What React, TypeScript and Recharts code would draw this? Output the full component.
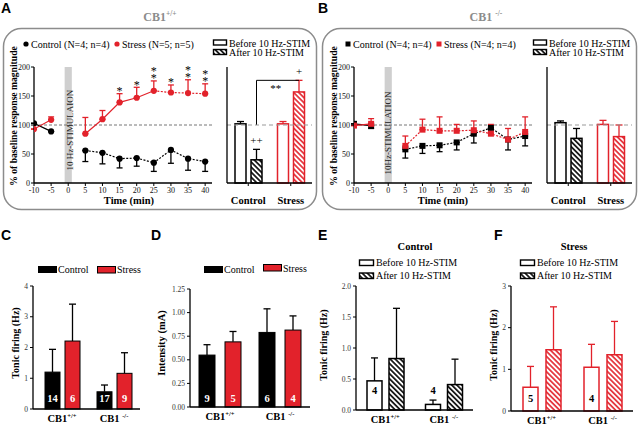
import React from 'react';
import {
  ComposedChart,
  BarChart,
  Bar,
  Line,
  Scatter,
  XAxis,
  YAxis,
  ErrorBar,
  ReferenceLine,
  ReferenceArea,
} from 'recharts';

const RED = '#e2222b';
const GRAY = '#8c8c8c';
const SERIF = '"Liberation Serif", "Times New Roman", serif';
const SANS = '"Liberation Sans", Arial, sans-serif';

// ---- A / B: time course (% of baseline) ----
const timePoints = [-10, -5, 5, 10, 15, 20, 25, 30, 35, 40];
const timeTicks = [-10, -5, 0, 5, 10, 15, 20, 25, 30, 35, 40];
const pctTicks = [0, 50, 100, 150, 200];

const aControl = [103, 89, 56, 52, 42, 43, 35, 57, 42, 37];
const aControlSem = [0, 0, 19, 19, 16, 14, 15, 23, 20, 17];
const aStress = [93, 109, 85, 110, 139, 147, 159, 156, 155, 154];
const aStressSem = [0, 5, 28, 15, 15, 18, 17, 13, 23, 17];
const aStars = [0, 0, 0, 0, 1, 1, 2, 1, 2, 2];

const bControl = [102, 99, 58, 64, 65, 70, 85, 95, 75, 81];
const bControlSem = [0, 5, 15, 13, 11, 13, 16, 0, 18, 17];
const bStress = [99, 102, 64, 92, 90, 90, 91, 85, 75, 88];
const bStressSem = [0, 9, 17, 18, 24, 11, 16, 16, 19, 26];
const bStars = [0, 0, 0, 0, 0, 0, 0, 0, 0, 0];

// ---- A / B: before vs after 10 Hz-STIM ----
const stimGroups = ['Control', 'Stress'];
const aBefore = [102, 102];
const aBeforeSem = [4, 4];
const aAfter = [40, 157];
const aAfterSem = [18, 20];
const aAfterMarks = ['++', '+'];
const bBefore = [104, 101];
const bBeforeSem = [3, 7];
const bAfter = [77, 80];
const bAfterSem = [17, 20];
const bAfterMarks = ['', ''];

// ---- C - F ----
const genotypes = ['CB1+/+', 'CB1 -/-'];

const cControl = [1.2, 0.56];
const cControlSem = [0.74, 0.22];
const cControlN = [14, 17];
const cStress = [2.21, 1.16];
const cStressSem = [1.2, 0.67];
const cStressN = [6, 9];

const dControl = [0.55, 0.79];
const dControlSem = [0.11, 0.25];
const dControlN = [9, 6];
const dStress = [0.69, 0.815];
const dStressSem = [0.11, 0.15];
const dStressN = [5, 4];

const eBefore = [0.47, 0.09];
const eBeforeSem = [0.37, 0.07];
const eBeforeN = [4, 4];
const eAfter = [0.83, 0.41];
const eAfterSem = [0.81, 0.41];

const fBefore = [0.57, 1.05];
const fBeforeSem = [0.5, 0.55];
const fBeforeN = [5, 4];
const fAfter = [1.47, 1.35];
const fAfterSem = [1.03, 0.8];

function courseRows(ctrl: number[], ctrlSem: number[], stress: number[], stressSem: number[], solidUntil: number) {
  return timePoints.map((t, i) => ({
    t,
    ctrl: ctrl[i],
    ctrlErr: [ctrlSem[i], 0],
    stress: stress[i],
    stressErr: [0, stressSem[i]],
    ctrlPre: t < 0 ? ctrl[i] : null,
    ctrlPost: t > 0 ? ctrl[i] : null,
    stressPre: t < 0 ? stress[i] : null,
    stressSolid: t > 0 && t <= solidUntil ? stress[i] : null,
    stressDot: t >= solidUntil ? stress[i] : null,
  }));
}

function starRows(stress: number[], stressSem: number[], stars: number[]) {
  return timePoints
    .map((t, i) => ({ t, starAt: stress[i] + stressSem[i] + 8, stars: stars[i] }))
    .filter((r) => r.stars > 0);
}

function pairRows(a: number[], aErr: number[], b: number[], bErr: number[], groups: string[], aN?: number[], bN?: number[]) {
  return groups.map((g, i) => ({
    g,
    a: a[i],
    aErr: aErr[i],
    aN: aN ? aN[i] : null,
    b: b[i],
    bErr: bErr[i],
    bN: bN ? bN[i] : null,
  }));
}

const aRows = courseRows(aControl, aControlSem, aStress, aStressSem, 25);
const bRows = courseRows(bControl, bControlSem, bStress, bStressSem, 5);
const aStarData = starRows(aStress, aStressSem, aStars);
const bStarData = starRows(bStress, bStressSem, bStars);

// layout helper: plot rect in page px -> chart box
function frame(L: number, T: number, R: number, B: number, yw: number, xh: number, padT = 8, padR = 5) {
  return {
    left: L - yw,
    top: T - padT,
    width: R - L + yw + padR,
    height: B - T + padT + xh,
    margin: { top: padT, right: padR, bottom: 0, left: 0 },
  };
}

const axisLine = { stroke: '#000', strokeWidth: 1.3 };
const tickLine = { stroke: '#000', strokeWidth: 1 };

const NumTickX = (p: any) => (
  <text x={p.x} y={p.y + 7} textAnchor="middle" fontFamily={SERIF} fontSize={8} fill="#111">
    {p.payload.value}
  </text>
);
const NumTickY = (p: any) => (
  <text x={p.x} y={p.y + 3} textAnchor="end" fontFamily={SERIF} fontSize={8} fill="#111">
    {p.payload.value}
  </text>
);

function TimeCourse({ x0, rows, stars, square }: { x0: number; rows: any[]; stars: any[]; square: boolean }) {
  const f = frame(x0 + 34, 67, x0 + 212, 183, 29, 26);
  const marker = (color: string) => (p: any) =>
    square ? (
      <rect x={p.cx - 3} y={p.cy - 3} width={6} height={6} fill={color} />
    ) : (
      <circle cx={p.cx} cy={p.cy} r={3.1} fill={color} />
    );
  // significance asterisks, stacked upward in one text element
  const starShape = (p: any) => {
    const n = p.payload.stars;
    const parts = [];
    for (let k = 0; k < n; k++) {
      parts.push(
        <tspan key={k} x={p.cx} dy={k === 0 ? 0 : -7.5}>
          *
        </tspan>
      );
    }
    return (
      <text x={p.cx} y={p.cy + 6} textAnchor="middle" fontSize={12} fontFamily={SERIF} fill="#000">
        {parts}
      </text>
    );
  };
  return (
    <div style={{ position: 'absolute', left: f.left, top: f.top }}>
      <ComposedChart width={f.width} height={f.height} data={rows} margin={f.margin} style={{ fontFamily: SERIF }}>
        <XAxis
          type="number"
          dataKey="t"
          domain={[-10, 42]}
          ticks={timeTicks}
          interval={0}
          allowDataOverflow
          height={26}
          axisLine={axisLine}
          tickLine={tickLine}
          tickSize={3}
          tickMargin={0}
          tick={NumTickX}
        />
        <YAxis
          type="number"
          domain={[0, 200]}
          ticks={pctTicks}
          interval={0}
          width={29}
          axisLine={axisLine}
          tickLine={tickLine}
          tickSize={3}
          tickMargin={1}
          tick={NumTickY}
        />
        <ReferenceArea x1={-1.05} x2={1.05} fill="#cfcfcf" fillOpacity={1} stroke="none" />
        <ReferenceLine y={100} stroke="#777" strokeDasharray="3 2" strokeWidth={1} />
        <Line dataKey="ctrlPre" stroke="#000" strokeWidth={1.2} dot={false} isAnimationActive={false} />
        <Line dataKey="ctrlPost" stroke="#000" strokeWidth={1.2} strokeDasharray="2 1.5" dot={false} isAnimationActive={false} />
        <Line dataKey="stressPre" stroke={RED} strokeWidth={1.2} dot={false} isAnimationActive={false} />
        <Line dataKey="stressSolid" stroke={RED} strokeWidth={1.2} dot={false} isAnimationActive={false} />
        <Line dataKey="stressDot" stroke={RED} strokeWidth={1.2} strokeDasharray="2 1.5" dot={false} isAnimationActive={false} />
        <Scatter dataKey="ctrl" shape={marker('#000')} isAnimationActive={false}>
          <ErrorBar dataKey="ctrlErr" direction="y" width={3} stroke="#000" strokeWidth={1.3} />
        </Scatter>
        <Scatter dataKey="stress" shape={marker(RED)} isAnimationActive={false}>
          <ErrorBar dataKey="stressErr" direction="y" width={3} stroke={RED} strokeWidth={1.3} />
        </Scatter>
        {stars.length > 0 && <Scatter data={stars} dataKey="starAt" shape={starShape} isAnimationActive={false} />}
      </ComposedChart>
    </div>
  );
}

type Look = { fill: string[]; stroke: string[]; sw: number; err: string };

function makeShape(
  key: 'a' | 'b',
  groups: string[],
  look: Look,
  opts: { nColor?: string; nLift?: number; marks?: string[]; bracket?: { text: string; band: number } } = {}
) {
  return (p: any) => {
    const i = groups.indexOf(p.payload.g);
    const v = p.payload[key];
    const ppu = p.height / v;
    const cx = p.x + p.width / 2;
    const bottom = p.y + p.height;
    const top = p.y - p.payload[key + 'Err'] * ppu;
    const n = p.payload[key + 'N'];
    const mark = opts.marks ? opts.marks[i] : '';
    return (
      <g>
        <rect x={p.x} y={p.y} width={p.width} height={p.height} fill={look.fill[i]} stroke={look.stroke[i]} strokeWidth={look.sw} />
        <line x1={cx} y1={p.y} x2={cx} y2={top} stroke={look.err || look.stroke[i]} strokeWidth={1.3} />
        <line x1={cx - 3.5} y1={top} x2={cx + 3.5} y2={top} stroke={look.err || look.stroke[i]} strokeWidth={1.3} />
        {n != null && opts.nLift != null && (
          <text x={cx} y={bottom - opts.nLift} textAnchor="middle" fontFamily={SERIF} fontWeight="bold" fontSize={10.5} fill={opts.nColor}>
            {n}
          </text>
        )}
        {mark && (
          <text x={cx} y={top - 5} textAnchor="middle" fontFamily={SERIF} fontSize={11} fill="#000">
            {mark}
          </text>
        )}
        {opts.bracket && i === 1 && (
          <g>
            <polyline
              points={`${cx - opts.bracket.band},${bottom - 100 * ppu} ${cx - opts.bracket.band},${top} ${cx},${top}`}
              fill="none"
              stroke="#000"
              strokeWidth={1}
            />
            <text x={cx - opts.bracket.band / 2 - 2} y={top + 12} textAnchor="middle" fontFamily={SERIF} fontSize={11} fill="#000">
              {opts.bracket.text}
            </text>
          </g>
        )}
      </g>
    );
  };
}

const GroupTick = (p: any) => (
  <text x={p.x} y={p.y + 16} textAnchor="middle" fontFamily={SERIF} fontWeight="bold" fontSize={10.5} fill="#000">
    {p.payload.value}
  </text>
);

const GenoTick = (p: any) => {
  const label: string = p.payload.value;
  const m = label.match(/^(.*?)([+\-]\/[+\-])$/);
  const base = m ? m[1] : label;
  const sup = m ? m[2] : '';
  return (
    <text x={p.x} y={p.y + 8} textAnchor="middle" fontFamily={SERIF} fontWeight="bold" fontSize={10.5} fill="#000">
      {base}
      <tspan dy={-4} fontSize={6.5}>
        {sup}
      </tspan>
    </text>
  );
};

function StimBars({ x0, before, beforeSem, after, afterSem, marks, bracket }: any) {
  const f = frame(x0 + 227, 67, x0 + 312, 183, 5, 26);
  const rows = pairRows(before, beforeSem, after, afterSem, stimGroups);
  const band = (312 - 227) / 2;
  const beforeLook: Look = { fill: ['#fff', '#fff'], stroke: ['#000', RED], sw: 1.5, err: '' };
  const afterLook: Look = { fill: ['url(#hatchK)', 'url(#hatchR)'], stroke: ['#000', RED], sw: 1.5, err: '' };
  return (
    <div style={{ position: 'absolute', left: f.left, top: f.top }}>
      <BarChart width={f.width} height={f.height} data={rows} margin={f.margin} barSize={11} barGap={5} style={{ fontFamily: SERIF }}>
        <XAxis dataKey="g" height={26} axisLine={axisLine} tickLine={tickLine} tickSize={3} tick={GroupTick} interval={0} />
        <YAxis domain={[0, 200]} ticks={pctTicks} interval={0} width={5} axisLine={axisLine} tickLine={tickLine} tickSize={3} tick={false} />
        <ReferenceLine y={100} stroke="#999" strokeDasharray="4 3" strokeWidth={1} />
        <Bar dataKey="a" shape={makeShape('a', stimGroups, beforeLook)} isAnimationActive={false} />
        <Bar
          dataKey="b"
          shape={makeShape('b', stimGroups, afterLook, { marks, bracket: bracket ? { text: bracket, band } : undefined })}
          isAnimationActive={false}
        />
      </BarChart>
    </div>
  );
}

function PairBars(props: any) {
  const { L, T, R, B, yw, rows, domain, ticks, fmt, aLook, bLook, barSize, barGap, nColor, nLift, padLeft } = props;
  const f = frame(L, T, R, B, yw, 18, 8, 5);
  const YTick = (p: any) => (
    <text x={p.x} y={p.y + 2.5} textAnchor="end" fontFamily={SERIF} fontSize={7.5} fill="#333">
      {fmt(p.payload.value)}
    </text>
  );
  return (
    <div style={{ position: 'absolute', left: f.left, top: f.top }}>
      <BarChart width={f.width} height={f.height} data={rows} margin={f.margin} barSize={barSize} barGap={barGap} style={{ fontFamily: SERIF }}>
        <XAxis
          dataKey="g"
          height={18}
          axisLine={axisLine}
          tickLine={false}
          tickSize={3}
          tick={GenoTick}
          interval={0}
          padding={{ left: padLeft || 0, right: 0 }}
        />
        <YAxis
          domain={domain}
          ticks={ticks}
          interval={0}
          width={yw}
          axisLine={axisLine}
          tickLine={tickLine}
          tickSize={3}
          tickMargin={2}
          tick={YTick}
        />
        <Bar dataKey="a" shape={makeShape('a', genotypes, aLook, { nColor, nLift })} isAnimationActive={false} />
        <Bar dataKey="b" shape={makeShape('b', genotypes, bLook, { nColor, nLift })} isAnimationActive={false} />
      </BarChart>
    </div>
  );
}

function Sup({ children }: { children: React.ReactNode }) {
  return (
    <tspan dy={-5} fontSize={7.5}>
      {children}
    </tspan>
  );
}

function VLabel({ x, y, size, children }: { x: number; y: number; size: number; children: React.ReactNode }) {
  return (
    <text x={x} y={y} transform={`rotate(-90 ${x} ${y})`} textAnchor="middle" fontFamily={SERIF} fontWeight="bold" fontSize={size} fill="#000">
      {children}
    </text>
  );
}

function Overlay() {
  const t = { fontFamily: SERIF, fontSize: 10, fill: '#000' };
  const letter = { fontFamily: SANS, fontWeight: 'bold' as const, fontSize: 14, fill: '#000' };
  return (
    <svg width={640} height={425} style={{ position: 'absolute', left: 0, top: 0, pointerEvents: 'none' }}>
      <defs>
        <pattern id="hatchK" patternUnits="userSpaceOnUse" width={3.6} height={3.6} patternTransform="rotate(-45)">
          <rect width={3.6} height={3.6} fill="#fff" />
          <line x1={1.8} y1={0} x2={1.8} y2={3.6} stroke="#000" strokeWidth={1.6} />
        </pattern>
        <pattern id="hatchR" patternUnits="userSpaceOnUse" width={3.6} height={3.6} patternTransform="rotate(-45)">
          <rect width={3.6} height={3.6} fill="#fff" />
          <line x1={1.8} y1={0} x2={1.8} y2={3.6} stroke={RED} strokeWidth={1.6} />
        </pattern>
      </defs>

      {/* panel frames */}
      <rect x={3.5} y={28.5} width={313} height={181} rx={18} fill="none" stroke={GRAY} strokeWidth={1.5} />
      <rect x={322.5} y={28.5} width={314} height={181} rx={18} fill="none" stroke={GRAY} strokeWidth={1.5} />

      {/* panel letters */}
      <text x={1} y={13} {...letter}>A</text>
      <text x={318} y={13} {...letter}>B</text>
      <text x={1} y={240} {...letter}>C</text>
      <text x={151} y={240} {...letter}>D</text>
      <text x={318} y={240} {...letter}>E</text>
      <text x={494} y={240} {...letter}>F</text>

      {/* titles */}
      <text x={160} y={21} textAnchor="middle" fontFamily={SERIF} fontWeight="bold" fontSize={12} fill={GRAY}>
        CB1<Sup>+/+</Sup>
      </text>
      <text x={486} y={21} textAnchor="middle" fontFamily={SERIF} fontWeight="bold" fontSize={12} fill={GRAY}>
        CB1 <Sup>-/-</Sup>
      </text>

      {/* A legends */}
      <circle cx={26} cy={44} r={2.6} fill="#000" />
      <text x={31} y={47.5} {...t}>Control (N=4; n=4)</text>
      <circle cx={117} cy={44} r={2.6} fill={RED} />
      <text x={122} y={47.5} {...t}>Stress (N=5; n=5)</text>
      <rect x={213.5} y={40} width={13} height={5} fill="#fff" stroke="#000" strokeWidth={1.4} />
      <text x={229} y={46.5} {...t}>Before 10 Hz-STIM</text>
      <rect x={213.5} y={49.5} width={13} height={5} fill="url(#hatchK)" stroke="#000" strokeWidth={1.4} />
      <text x={229} y={56} {...t}>After 10 Hz-STIM</text>

      {/* B legends */}
      <rect x={345.5} y={41.5} width={5} height={5} fill="#000" />
      <text x={353} y={47.5} {...t}>Control (N=4; n=4)</text>
      <rect x={436.5} y={41.5} width={5} height={5} fill={RED} />
      <text x={444} y={47.5} {...t}>Stress (N=4; n=4)</text>
      <rect x={533.5} y={40} width={13} height={5} fill="#fff" stroke="#000" strokeWidth={1.4} />
      <text x={549} y={46.5} {...t}>Before 10 Hz-STIM</text>
      <rect x={533.5} y={49.5} width={13} height={5} fill="url(#hatchK)" stroke="#000" strokeWidth={1.4} />
      <text x={549} y={56} {...t}>After 10 Hz-STIM</text>

      {/* A / B axis titles and stimulation labels */}
      <VLabel x={17} y={116} size={9.6}>% of baseline response magnitude</VLabel>
      <VLabel x={337} y={116} size={9.6}>% of baseline response magnitude</VLabel>
      <text x={129} y={204} textAnchor="middle" fontFamily={SERIF} fontWeight="bold" fontSize={10.5}>Time (min)</text>
      <text x={443} y={204} textAnchor="middle" fontFamily={SERIF} fontWeight="bold" fontSize={10.5}>Time (min)</text>
      <text x={72.5} y={130} transform="rotate(-90 72.5 130)" textAnchor="middle" fontFamily={SERIF} fontSize={9} fill="#222">
        10 Hz-STIMULAION
      </text>
      <text x={391} y={133} transform="rotate(-90 391 133)" textAnchor="middle" fontFamily={SERIF} fontSize={9} fill="#222">
        10Hz-STIMULATION
      </text>

      {/* C legend */}
      <rect x={38} y={266} width={19} height={7} fill="#000" />
      <text x={58} y={273} {...t}>Control</text>
      <rect x={97.5} y={266.5} width={18} height={6.5} fill={RED} stroke="#000" strokeWidth={1} />
      <text x={117} y={273} {...t}>Stress</text>
      <VLabel x={18.5} y={343} size={10}>Tonic firing (Hz)</VLabel>

      {/* D legend */}
      <rect x={204} y={266} width={19} height={7} fill="#000" />
      <text x={224} y={273} {...t}>Control</text>
      <rect x={263.5} y={264.5} width={18} height={6.5} fill={RED} stroke="#000" strokeWidth={1} />
      <text x={283} y={272} {...t}>Stress</text>
      <VLabel x={164.5} y={343} size={10.5}>Intensity (mA)</VLabel>

      {/* E legend */}
      <text x={415} y={250} textAnchor="middle" fontFamily={SERIF} fontWeight="bold" fontSize={10.5}>Control</text>
      <rect x={359.5} y={260} width={14} height={5.5} fill="#fff" stroke="#000" strokeWidth={1.4} />
      <text x={376} y={266} {...t}>Before 10 Hz-STIM</text>
      <rect x={359.5} y={273} width={14} height={5.5} fill="url(#hatchK)" stroke="#000" strokeWidth={1.4} />
      <text x={376} y={279} {...t}>After 10 Hz-STIM</text>
      <VLabel x={327} y={345} size={10}>Tonic firing (Hz)</VLabel>

      {/* F legend */}
      <text x={574} y={250} textAnchor="middle" fontFamily={SERIF} fontWeight="bold" fontSize={10.5}>Stress</text>
      <rect x={520.5} y={260} width={14} height={5.5} fill="#fff" stroke="#000" strokeWidth={1.4} />
      <text x={537} y={266} {...t}>Before 10 Hz-STIM</text>
      <rect x={520.5} y={273} width={14} height={5.5} fill="url(#hatchK)" stroke="#000" strokeWidth={1.4} />
      <text x={537} y={279} {...t}>After 10 Hz-STIM</text>
      <VLabel x={496.5} y={345} size={10}>Tonic firing (Hz)</VLabel>
    </svg>
  );
}

const solidLook = { fill: ['#000', '#000'], stroke: ['#000', '#000'], sw: 1, err: '#000' };
const redLook = { fill: [RED, RED], stroke: ['#000', '#000'], sw: 1, err: '#000' };
const openBlack = { fill: ['#fff', '#fff'], stroke: ['#000', '#000'], sw: 1.5, err: '#000' };
const hatchBlack = { fill: ['url(#hatchK)', 'url(#hatchK)'], stroke: ['#000', '#000'], sw: 1.5, err: '#000' };
const openRed = { fill: ['#fff', '#fff'], stroke: [RED, RED], sw: 1.5, err: RED };
const hatchRed = { fill: ['url(#hatchR)', 'url(#hatchR)'], stroke: [RED, RED], sw: 1.5, err: RED };

export default function App() {
  return (
    <div style={{ position: 'absolute', left: 0, top: 0, width: 640, height: 425, overflow: 'hidden', background: '#fff', fontFamily: SERIF }}>
      <TimeCourse x0={0} rows={aRows} stars={aStarData} square={false} />
      <StimBars x0={0} before={aBefore} beforeSem={aBeforeSem} after={aAfter} afterSem={aAfterSem} marks={aAfterMarks} bracket="**" />
      <TimeCourse x0={320} rows={bRows} stars={bStarData} square />
      <StimBars x0={320} before={bBefore} beforeSem={bBeforeSem} after={bAfter} afterSem={bAfterSem} marks={bAfterMarks} />

      <PairBars
        L={33} T={286} R={140} B={409} yw={25}
        rows={pairRows(cControl, cControlSem, cStress, cStressSem, genotypes, cControlN, cStressN)}
        domain={[0, 4]} ticks={[0, 1, 2, 3, 4]} fmt={(v: number) => String(v)}
        aLook={solidLook} bLook={redLook} barSize={15} barGap={5} nColor="#fff" nLift={7} padLeft={3}
      />
      <PairBars
        L={190} T={289} R={310} B={407} yw={25}
        rows={pairRows(dControl, dControlSem, dStress, dStressSem, genotypes, dControlN, dStressN)}
        domain={[0, 1.25]} ticks={[0, 0.25, 0.5, 0.75, 1, 1.25]} fmt={(v: number) => v.toFixed(2)}
        aLook={solidLook} bLook={redLook} barSize={16} barGap={10} nColor="#fff" nLift={5}
      />
      <PairBars
        L={356} T={286} R={473} B={410} yw={24}
        rows={pairRows(eBefore, eBeforeSem, eAfter, eAfterSem, genotypes, eBeforeN)}
        domain={[0, 2]} ticks={[0, 0.5, 1, 1.5, 2]} fmt={(v: number) => v.toFixed(1)}
        aLook={openBlack} bLook={hatchBlack} barSize={15} barGap={7} nColor="#000" nLift={16}
      />
      <PairBars
        L={511} T={286} R={633} B={411} yw={20}
        rows={pairRows(fBefore, fBeforeSem, fAfter, fAfterSem, genotypes, fBeforeN)}
        domain={[0, 3]} ticks={[0, 1, 2, 3]} fmt={(v: number) => String(v)}
        aLook={openRed} bLook={hatchRed} barSize={15} barGap={8} nColor="#000" nLift={9}
      />

      <Overlay />
    </div>
  );
}
